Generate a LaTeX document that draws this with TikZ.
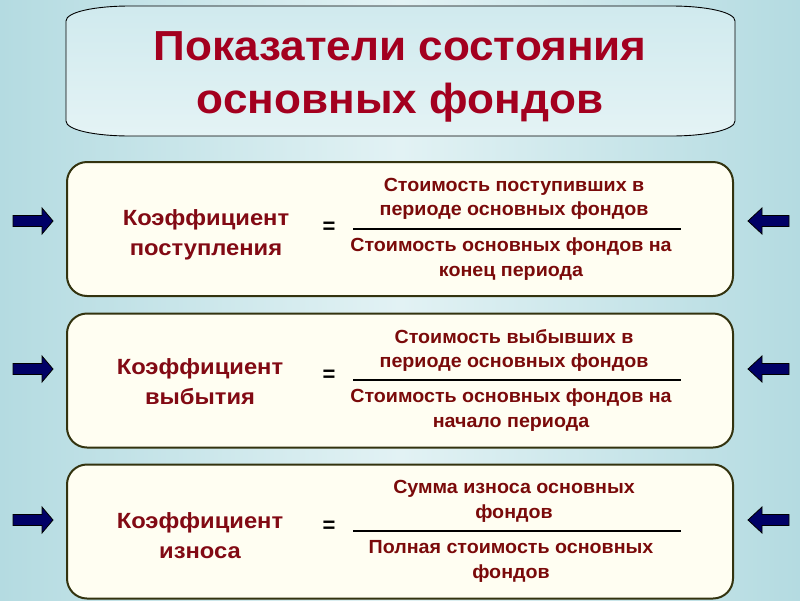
\documentclass[tikz,border=0pt]{standalone}
\usepackage{fontspec}
\setmainfont{Liberation Sans}
\newfontfamily\titlefont[FakeStretch=1.05]{Liberation Sans}
\newfontfamily\labfont[FakeStretch=1.08]{Liberation Sans}
\newfontfamily\fracfont[FakeStretch=1.035]{Liberation Sans}
\definecolor{bgedge}{HTML}{B4DBE1}
\definecolor{bgmid}{HTML}{E2F2F4}
\definecolor{ttop}{HTML}{D0EAEE}
\definecolor{tbot}{HTML}{E4F3F5}
\definecolor{titlered}{HTML}{A3001F}
\definecolor{labred}{HTML}{820A14}
\definecolor{fracred}{HTML}{7A0A0A}
\definecolor{cardfill}{HTML}{FFFEF2}
\definecolor{carddraw}{HTML}{33330F}
\definecolor{navy}{HTML}{000066}
\tikzset{
  card/.style={draw=carddraw, line width=2pt, fill=cardfill, rounded corners=20pt,
    minimum width=666pt, minimum height=134pt, inner sep=0pt},
  lab/.style={text=labred, font=\labfont\fontsize{22}{30}\selectfont\bfseries, align=center, inner sep=0pt},
  frac/.style={text=fracred, font=\fracfont\fontsize{19}{24.5}\selectfont\bfseries, align=center, inner sep=0pt},
  eqs/.style={text=black, font=\fontsize{22}{24}\selectfont\bfseries, inner sep=0pt},
  fline/.style={line width=1.6pt, black},
  arr/.style={fill=navy, draw=black, line width=0.8pt},
}
\newcommand{\rarrow}[1]{\draw[arr] (13,#1-5.5) -- (42,#1-5.5) -- (42,#1-13) -- (53,#1) -- (42,#1+13) -- (42,#1+5.5) -- (13,#1+5.5) -- cycle;}
\newcommand{\larrow}[1]{\draw[arr] (789,#1-5.5) -- (762,#1-5.5) -- (762,#1-13) -- (748,#1) -- (762,#1+13) -- (762,#1+5.5) -- (789,#1+5.5) -- cycle;}
\begin{document}
\begin{tikzpicture}[x=1pt, y=-1pt]
\useasboundingbox (0,0) rectangle (800,600);
\shade[left color=bgedge, right color=bgedge, middle color=bgmid] (0,0) rectangle (800,600);
% title box
\shade[top color=ttop, bottom color=tbot, draw=black, line width=0.9pt]
  (130,6) -- (671,6) .. controls (706,6) and (735,12) .. (735,21)
  -- (735,121) .. controls (735,130) and (706,136) .. (671,136)
  -- (130,136) .. controls (95,136) and (66,130) .. (66,121)
  -- (66,21) .. controls (66,12) and (95,6) .. (130,6) -- cycle;
\node[text=titlered, font=\titlefont\fontsize{42}{53}\selectfont\bfseries, align=center] (title) at (400,77) {Показатели состояния\\основных фондов};
% cards
\node[card] (c1) at (400,229) {};
\node[card] (c2) at (400,380.5) {};
\node[card] (c3) at (400,531.5) {};
% card 1
\node[lab] (l1) at (206,234.5) {Коэффициент\\поступления};
\node[eqs] (e1) at (329,228) {=};
\node[frac] (n1) at (514,199) {Стоимость поступивших в\\периоде основных фондов};
\node[frac] (d1) at (511,259) {Стоимость основных фондов на\\конец периода};
\coordinate (a1) at (353,229); \coordinate (b1) at (681,229);
\draw[fline] (a1) -- (b1);
% card 2
\node[lab] (l2) at (200,382) {Коэффициент\\выбытия};
\node[eqs] (e2) at (329,376) {=};
\node[frac] (n2) at (514,350.5) {Стоимость выбывших в\\периоде основных фондов};
\node[frac] (d2) at (511,410) {Стоимость основных фондов на\\начало периода};
\coordinate (a2) at (353,380); \coordinate (b2) at (681,380);
\draw[fline] (a2) -- (b2);
% card 3
\node[lab] (l3) at (200,536) {Коэффициент\\износа};
\node[eqs] (e3) at (329,527) {=};
\node[frac] (n3) at (514,501.5) {Сумма износа основных\\фондов};
\node[frac] (d3) at (511,561.5) {Полная стоимость основных\\фондов};
\coordinate (a3) at (353,531); \coordinate (b3) at (681,531);
\draw[fline] (a3) -- (b3);
% arrows
\rarrow{221} \larrow{221}
\rarrow{369} \larrow{369}
\rarrow{520} \larrow{520}
\end{tikzpicture}
\end{document}
